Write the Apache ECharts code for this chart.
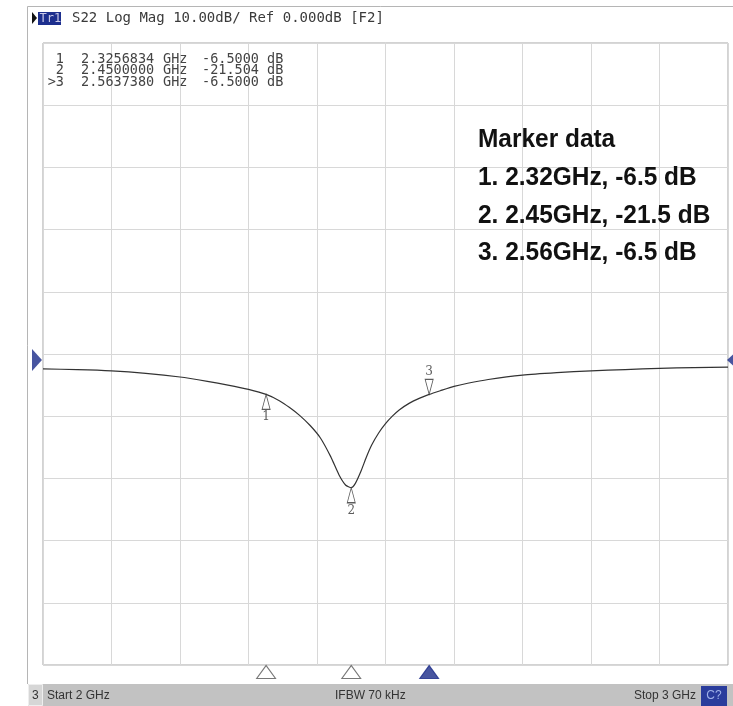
<!DOCTYPE html>
<html><head><meta charset="utf-8">
<script src="https://cdn.jsdelivr.net/npm/echarts@6/dist/echarts.min.js"></script>
<style>html,body{margin:0;padding:0;background:#fff}#c{width:733px;height:706px}</style>
</head><body><div id="c"></div>
<script>
// S22 trace (GHz, dB)
const freqGHz = [2.000,2.050,2.100,2.150,2.200,2.240,2.270,2.300,2.3257,2.345,2.360,2.375,2.390,2.405,2.420,2.432,2.442,2.450,2.456,2.464,2.472,2.480,2.490,2.500,2.510,2.520,2.535,2.550,2.5637,2.580,2.600,2.620,2.650,2.700,2.750,2.800,2.850,2.900,2.950,3.000];
const s22dB   = [-2.4,-2.5,-2.7,-3.1,-3.7,-4.4,-5.0,-5.7,-6.5,-7.5,-8.6,-9.9,-11.5,-13.5,-16.5,-19.4,-21.1,-21.5,-20.8,-18.9,-16.6,-14.6,-12.7,-11.2,-10.0,-9.0,-7.9,-7.1,-6.5,-5.9,-5.2,-4.7,-4.1,-3.4,-3.0,-2.7,-2.5,-2.3,-2.2,-2.1];
// markers
const markerIds  = ['1','2','3'];
const markerFreq = [2.3256834, 2.4500000, 2.5637380];
const markerDb   = [-6.5000, -21.504, -6.5000];
const markerFreqText = ['2.3256834','2.4500000','2.5637380'];
const markerDbText   = ['-6.5000','-21.504','-6.5000'];
const markerRowIds   = ['1','2','>3'];
const noteLines = ['Marker data','1. 2.32GHz, -6.5 dB','2. 2.45GHz, -21.5 dB','3. 2.56GHz, -6.5 dB'];
// axes
const xMin = 2, xMax = 3, xStep = 0.1;
const yMin = -50, yMax = 50, yStep = 10;
const refLevel = 0;

const chart = echarts.init(document.getElementById('c'), null, {renderer:'canvas'});
const mono = '"DejaVu Sans Mono", monospace';
const G = {left:43, top:43, width:685, height:622};

const up = [], down = [];
markerIds.forEach((id,i)=>{ (i===2?down:up).push({value:[markerFreq[i], markerDb[i]], name:id}); });

const graphics = [];
const add = (o)=>{ o.z = 50; o.silent = true; graphics.push(o); };
// outer frame lines
add({type:'line', shape:{x1:27.5,y1:6.5,x2:733,y2:6.5}, style:{stroke:'#b5b5b5',lineWidth:1}});
add({type:'line', shape:{x1:27.5,y1:6.5,x2:27.5,y2:684}, style:{stroke:'#b5b5b5',lineWidth:1}});
// header
add({type:'polygon', shape:{points:[[32,12],[37,18],[32,24]]}, style:{fill:'#111'}});
add({type:'rect', shape:{x:38,y:12,width:23,height:13}, style:{fill:'#1d2f8e'}});
add({type:'text', x:39.5, y:18.5, style:{text:'Tr1', font:'12px '+mono, fill:'#c8c8e8', verticalAlign:'middle'}});
add({type:'text', x:72, y:18.5, style:{text:'S22 Log Mag 10.00dB/ Ref 0.000dB [F2]', font:'14px '+mono, fill:'#3a3a3a', verticalAlign:'middle'}});
// marker table
const rowsY = [59, 70.5, 82];
markerRowIds.forEach((id,i)=>{
  const y = rowsY[i];
  const f = '13.5px '+mono, c = '#444';
  add({type:'text', x:64, y:y, style:{text:id, font:f, fill:c, align:'right', verticalAlign:'middle'}});
  add({type:'text', x:81, y:y, style:{text:markerFreqText[i], font:f, fill:c, verticalAlign:'middle'}});
  add({type:'text', x:163, y:y, style:{text:'GHz', font:f, fill:c, verticalAlign:'middle'}});
  add({type:'text', x:202, y:y, style:{text:markerDbText[i], font:f, fill:c, verticalAlign:'middle'}});
  add({type:'text', x:267, y:y, style:{text:'dB', font:f, fill:c, verticalAlign:'middle'}});
});
// note block
const noteY = [140, 178, 216, 253];
noteLines.forEach((t,i)=>{
  add({type:'text', x:478, y:noteY[i], scaleX:0.94, style:{text:t, font:'bold 26px "Liberation Sans", Arial, sans-serif', fill:'#111', verticalAlign:'middle'}});
});
// status bar
add({type:'rect', shape:{x:28,y:684,width:705,height:22}, style:{fill:'#c2c2c2'}});
add({type:'rect', shape:{x:28.5,y:684.5,width:14,height:21}, style:{fill:'#d6d6d6', stroke:'#eeeeee', lineWidth:1}});
const sf = '12px "Liberation Sans", Arial, sans-serif';
add({type:'text', x:32, y:696, style:{text:'3', font:sf, fill:'#333', verticalAlign:'middle'}});
add({type:'text', x:47, y:696, style:{text:'Start 2 GHz', font:sf, fill:'#333', verticalAlign:'middle'}});
add({type:'text', x:335, y:696, style:{text:'IFBW 70 kHz', font:sf, fill:'#333', verticalAlign:'middle'}});
add({type:'text', x:696, y:696, style:{text:'Stop 3 GHz', font:sf, fill:'#333', align:'right', verticalAlign:'middle'}});
add({type:'rect', shape:{x:701,y:686,width:26,height:20}, style:{fill:'#2a3c9c'}});
add({type:'text', x:714, y:696, style:{text:'C?', font:sf, fill:'#9fb0e8', align:'center', verticalAlign:'middle'}});

chart.setOption({
  animation:false,
  backgroundColor:'#fff',
  grid:{left:G.left, top:G.top, width:G.width, height:G.height, show:true, borderColor:'#a6a6a6', borderWidth:1, backgroundColor:'transparent'},
  xAxis:{type:'value', min:xMin, max:xMax, interval:xStep, axisLabel:{show:false}, axisTick:{show:false}, axisLine:{show:false},
         splitLine:{show:true, lineStyle:{color:'#d8d8d8', width:1}}},
  yAxis:{type:'value', min:yMin, max:yMax, interval:yStep, axisLabel:{show:false}, axisTick:{show:false}, axisLine:{show:false},
         splitLine:{show:true, lineStyle:{color:'#d8d8d8', width:1}}},
  series:[
    {type:'line', data:freqGHz.map((f,i)=>[f,s22dB[i]]), showSymbol:false, smooth:0.2, lineStyle:{color:'#333', width:1.2}, z:3},
    {type:'scatter', data:up, symbol:'triangle', symbolSize:[8,15], symbolOffset:[0,7.5], clip:false,
     itemStyle:{color:'#fff', borderColor:'#333', borderWidth:1}, z:4,
     label:{show:true, position:'bottom', distance:1, formatter:p=>p.name, fontFamily:'"DejaVu Serif", serif', fontSize:12, color:'#333'}},
    {type:'scatter', data:down, symbol:'triangle', symbolRotate:180, symbolSize:[8,15], symbolOffset:[0,-7.5], clip:false,
     itemStyle:{color:'#fff', borderColor:'#333', borderWidth:1}, z:4,
     label:{show:true, position:'top', distance:1, formatter:p=>p.name, fontFamily:'"DejaVu Serif", serif', fontSize:12, color:'#333'}},
    // reference level arrows
    {type:'scatter', data:[[xMin, refLevel]], symbol:'triangle', symbolRotate:-90, symbolSize:[22,10], symbolOffset:[-6,6], clip:false,
     itemStyle:{color:'#1a2a88'}, z:5},
    {type:'scatter', data:[[xMax, refLevel]], symbol:'triangle', symbolRotate:90, symbolSize:[18,10], symbolOffset:[4,6], clip:false,
     itemStyle:{color:'#1a2a88'}, z:5},
    // marker position triangles under the grid
    {type:'scatter', data:markerFreq.map((f,i)=>({value:[f,yMin], itemStyle: i===2?{color:'#1a2a88', borderColor:'#1a2a88'}:{color:'#fff', borderColor:'#555'}})),
     symbol:'triangle', symbolSize:[19,13], symbolOffset:[0,7], clip:false, itemStyle:{borderWidth:1}, z:5}
  ],
  graphic:graphics
});
</script></body></html>
